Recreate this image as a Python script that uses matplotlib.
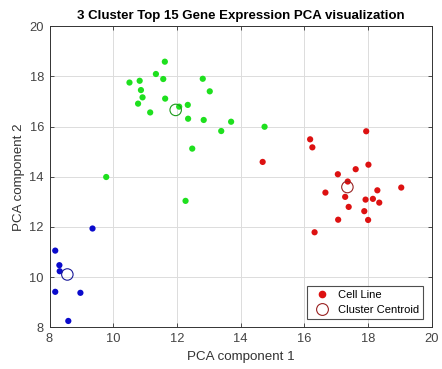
import matplotlib
matplotlib.use("Agg")
import matplotlib.pyplot as plt
from matplotlib.lines import Line2D

plt.rcParams['font.family'] = ['Liberation Sans', 'DejaVu Sans']

green_x = [10.51, 10.83, 11.34, 11.62, 11.57, 10.87, 10.92, 10.78, 11.16, 11.63, 12.07,
           12.34, 12.35, 12.81, 13.03, 12.84, 13.39, 13.70, 14.75, 12.48, 12.27, 9.78]
green_y = [17.75, 17.82, 18.09, 18.58, 17.89, 17.45, 17.16, 16.91, 16.56, 17.11, 16.79,
           16.86, 16.31, 17.90, 17.40, 16.26, 15.82, 16.19, 15.99, 15.12, 13.04, 13.99]
red_x = [16.18, 16.25, 14.69, 17.94, 18.01, 17.61, 17.05, 17.36, 16.66, 17.28,
         17.39, 19.04, 18.29, 18.15, 17.92, 18.35, 17.88, 18.00, 17.06, 16.32]
red_y = [15.49, 15.17, 14.59, 15.81, 14.48, 14.30, 14.10, 13.81, 13.37, 13.20,
         12.80, 13.57, 13.46, 13.12, 13.09, 12.97, 12.63, 12.28, 12.29, 11.79]
blue_x = [9.35, 8.18, 8.31, 8.32, 8.18, 8.97, 8.59]
blue_y = [11.94, 11.06, 10.48, 10.24, 9.42, 9.38, 8.26]
centroid_x = [11.96, 17.35, 8.56]
centroid_y = [16.66, 13.59, 10.11]

c_green, c_red, c_blue = '#1ee01e', '#dd1111', '#0a0acc'
ce_green, ce_red, ce_blue = '#1a9a1a', '#992222', '#1a1a99'

fig = plt.figure(figsize=(4.42, 3.69), dpi=100)
ax = fig.add_axes([0.112, 0.1125, 0.865, 0.817])

ax.scatter(green_x, green_y, s=20, color=c_green, edgecolors='none', zorder=3)
ax.scatter(red_x, red_y, s=20, color=c_red, edgecolors='none', zorder=3)
ax.scatter(blue_x, blue_y, s=20, color=c_blue, edgecolors='none', zorder=3)
ax.scatter(centroid_x, centroid_y, s=68, facecolors='none',
           edgecolors=[ce_green, ce_red, ce_blue], linewidths=0.8, zorder=4)

ax.set_xlim(8, 20)
ax.set_ylim(8, 20)
ax.set_xticks(range(8, 21, 2))
ax.set_yticks(range(8, 21, 2))
ax.grid(True, color='#dcdcdc', linewidth=0.7)
ax.set_axisbelow(True)
ax.tick_params(direction='in', top=True, right=True, labelsize=9.3,
               colors='#333333', length=3, width=0.6, labelcolor='#444444', pad=4)
for s in ax.spines.values():
    s.set_color('#333333')
    s.set_linewidth(0.7)

ax.set_title('3 Cluster Top 15 Gene Expression PCA visualization',
             fontsize=9.5, fontweight='bold', pad=5)
ax.set_xlabel('PCA component 1', fontsize=9.6, color='#333333', labelpad=4)
ax.set_ylabel('PCA component 2', fontsize=9.6, color='#333333', labelpad=3)

handles = [Line2D([], [], marker='o', linestyle='none', color=c_red, markersize=4.5),
           Line2D([], [], marker='o', linestyle='none', markerfacecolor='none',
                  markeredgecolor=ce_red, markersize=8.5, markeredgewidth=0.8)]
leg = ax.legend(handles, ['Cell Line', 'Cluster Centroid'], loc='lower right',
                fontsize=8, frameon=True, fancybox=False, edgecolor='#222222',
                borderaxespad=0.8, handletextpad=0.4, labelspacing=0.45,
                borderpad=0.35)
leg.get_frame().set_linewidth(0.8)

fig.savefig('out.png', dpi=100)
